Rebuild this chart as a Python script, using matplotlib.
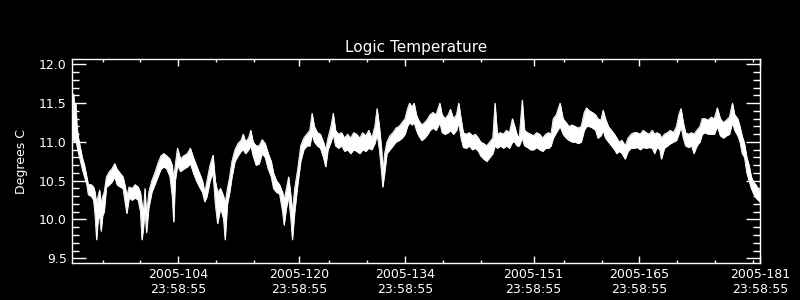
import matplotlib
matplotlib.use("Agg")
import matplotlib.pyplot as plt
from matplotlib.ticker import FixedLocator, MultipleLocator

# day of year 2005, upper / lower edge of the noisy trace (deg C)
day = [
    90.0, 90.15, 90.3, 90.45, 90.6, 90.8, 91.0, 91.3, 91.6, 91.9,
    92.1, 92.5, 92.8, 93.0, 93.2, 93.4, 93.6, 93.8, 94.0, 94.2,
    94.5, 94.9, 95.2, 95.6, 95.9, 96.3, 96.7, 97.0, 97.2, 97.5,
    97.9, 98.3, 98.7, 99.0, 99.2, 99.4, 99.6, 99.8, 100.1, 100.5,
    100.9, 101.3, 101.7, 102.1, 102.5, 102.9, 103.2, 103.4, 103.6, 103.9,
    104.3, 104.7, 105.2, 105.6, 106.0, 106.4, 106.8, 107.2, 107.5, 107.8,
    108.2, 108.6, 108.9, 109.2, 109.6, 110.0, 110.2, 110.5, 110.8, 111.1,
    111.5, 111.9, 112.3, 112.6, 112.9, 113.3, 113.6, 113.9, 114.3, 114.7,
    115.1, 115.5, 115.9, 116.3, 116.6, 117.0, 117.4, 117.8, 118.0, 118.3,
    118.6, 118.9, 119.1, 119.4, 119.8, 120.2, 120.6, 121.0, 121.4, 121.7,
    122.0, 122.4, 122.8, 123.2, 123.5, 123.8, 124.2, 124.5, 124.8, 125.2,
    125.6, 126.0, 126.4, 126.8, 127.2, 127.6, 128.0, 128.4, 128.8, 129.2,
    129.6, 130.0, 130.3, 130.6, 130.9, 131.05, 131.3, 131.6, 132.0, 132.4,
    132.8, 133.2, 133.6, 134.0, 134.3, 134.6, 134.9, 135.2, 135.5, 135.8,
    136.2, 136.6, 137.0, 137.3, 137.7, 138.1, 138.6, 138.9, 139.3, 139.7,
    140.0, 140.4, 140.8, 141.1, 141.4, 141.7, 142.1, 142.5, 142.9, 143.3,
    143.7, 144.0, 144.4, 144.8, 145.2, 145.6, 145.9, 146.2, 146.6, 147.0,
    147.4, 147.8, 148.2, 148.5, 148.8, 149.1, 149.5, 149.8, 150.2, 150.6,
    151.0, 151.4, 151.8, 152.2, 152.6, 153.0, 153.3, 153.6, 154.0, 154.5,
    154.9, 155.3, 155.7, 156.1, 156.5, 156.9, 157.3, 157.7, 158.0, 158.4,
    158.8, 159.2, 159.5, 159.9, 160.2, 160.5, 160.9, 161.3, 161.7, 162.0,
    162.3, 162.7, 163.1, 163.5, 163.9, 164.3, 164.7, 165.1, 165.5, 165.9,
    166.3, 166.7, 167.0, 167.3, 167.7, 167.9, 168.3, 168.7, 169.1, 169.5,
    169.9, 170.2, 170.5, 170.8, 171.1, 171.5, 171.9, 172.2, 172.6, 173.0,
    173.3, 173.7, 174.1, 174.5, 174.9, 175.3, 175.7, 176.1, 176.5, 176.9,
    177.3, 177.6, 178.0, 178.3, 178.6, 178.9, 179.2, 179.5, 179.8, 180.1,
    180.4, 180.7, 181.0,
]
temp_hi = [
    11.30, 11.62, 11.45, 11.50, 11.20, 11.05, 10.95, 10.80, 10.70, 10.55,
    10.45, 10.45, 10.42, 10.35, 10.20, 10.30, 10.38, 10.20, 10.30, 10.35,
    10.55, 10.62, 10.65, 10.72, 10.65, 10.60, 10.55, 10.42, 10.30, 10.42,
    10.40, 10.45, 10.42, 10.35, 10.20, 10.10, 10.40, 10.05, 10.35, 10.50,
    10.60, 10.72, 10.82, 10.85, 10.82, 10.78, 10.70, 10.50, 10.70, 10.92,
    10.78, 10.82, 10.85, 10.92, 10.80, 10.70, 10.60, 10.50, 10.35, 10.50,
    10.70, 10.83, 10.50, 10.35, 10.40, 10.30, 10.20, 10.40, 10.55, 10.75,
    10.90, 10.98, 11.02, 11.10, 11.00, 11.05, 11.15, 11.00, 10.95, 10.95,
    11.03, 10.98, 10.85, 10.75, 10.60, 10.50, 10.45, 10.35, 10.25, 10.40,
    10.55, 10.30, 10.10, 10.40, 10.65, 10.95, 11.05, 11.10, 11.15, 11.37,
    11.20, 11.12, 11.10, 11.00, 10.90, 11.05, 11.20, 11.37, 11.15, 11.10,
    11.12, 11.05, 11.10, 11.05, 11.12, 11.10, 11.05, 11.12, 11.08, 11.15,
    11.05, 11.20, 11.43, 11.20, 10.90, 10.60, 10.85, 11.00, 11.08, 11.12,
    11.18, 11.20, 11.25, 11.30, 11.42, 11.50, 11.45, 11.50, 11.35, 11.28,
    11.22, 11.25, 11.30, 11.35, 11.38, 11.35, 11.50, 11.35, 11.30, 11.35,
    11.42, 11.30, 11.35, 11.50, 11.30, 11.12, 11.10, 11.12, 11.08, 11.10,
    11.05, 11.00, 10.98, 10.95, 11.00, 11.05, 11.50, 11.10, 11.12, 11.10,
    11.15, 11.12, 11.30, 11.20, 11.10, 11.05, 11.54, 11.15, 11.12, 11.10,
    11.08, 11.12, 11.10, 11.05, 11.10, 11.12, 11.10, 11.30, 11.35, 11.50,
    11.30, 11.25, 11.20, 11.22, 11.20, 11.18, 11.20, 11.38, 11.44, 11.40,
    11.38, 11.35, 11.30, 11.28, 11.41, 11.30, 11.20, 11.15, 11.10, 11.05,
    11.00, 11.02, 10.95, 11.05, 11.10, 11.12, 11.12, 11.10, 11.15, 11.12,
    11.10, 11.15, 11.10, 11.12, 11.10, 11.05, 11.10, 11.12, 11.15, 11.12,
    11.20, 11.35, 11.43, 11.25, 11.12, 11.10, 11.12, 11.10, 11.15, 11.20,
    11.30, 11.30, 11.28, 11.32, 11.30, 11.44, 11.30, 11.25, 11.28, 11.32,
    11.50, 11.35, 11.30, 11.20, 11.07, 10.98, 10.80, 10.70, 10.55, 10.48,
    10.45, 10.40, 10.35,
]
temp_lo = [
    11.00, 11.05, 11.00, 11.05, 10.95, 10.85, 10.78, 10.65, 10.55, 10.45,
    10.32, 10.30, 10.25, 10.05, 9.74, 10.00, 10.05, 9.85, 10.05, 10.10,
    10.42, 10.45, 10.48, 10.55, 10.45, 10.42, 10.40, 10.20, 10.08, 10.28,
    10.25, 10.28, 10.25, 10.10, 9.74, 9.90, 10.15, 9.83, 10.15, 10.35,
    10.45, 10.55, 10.65, 10.68, 10.65, 10.55, 10.30, 9.97, 10.50, 10.70,
    10.62, 10.65, 10.68, 10.72, 10.60, 10.50, 10.42, 10.35, 10.23, 10.30,
    10.50, 10.60, 10.20, 9.95, 10.15, 10.00, 9.74, 10.20, 10.35, 10.55,
    10.75, 10.82, 10.88, 10.90, 10.85, 10.90, 10.95, 10.82, 10.70, 10.72,
    10.85, 10.80, 10.65, 10.55, 10.40, 10.35, 10.33, 10.10, 9.93, 10.15,
    10.30, 10.00, 9.74, 10.10, 10.45, 10.75, 10.90, 10.95, 10.95, 11.10,
    11.00, 10.95, 10.92, 10.80, 10.68, 10.90, 11.00, 11.10, 10.95, 10.92,
    10.95, 10.88, 10.90, 10.85, 10.90, 10.88, 10.85, 10.90, 10.88, 10.92,
    10.90, 10.98, 11.10, 10.90, 10.60, 10.42, 10.60, 10.85, 10.90, 10.95,
    11.00, 11.02, 11.05, 11.10, 11.20, 11.25, 11.22, 11.25, 11.15, 11.08,
    11.02, 11.05, 11.10, 11.15, 11.18, 11.15, 11.25, 11.12, 11.10, 11.12,
    11.15, 11.10, 11.15, 11.25, 11.05, 10.93, 10.92, 10.95, 10.90, 10.92,
    10.88, 10.82, 10.78, 10.75, 10.80, 10.85, 10.95, 10.92, 10.95, 10.92,
    10.95, 10.92, 11.00, 11.00, 10.95, 10.95, 11.05, 10.95, 10.93, 10.90,
    10.90, 10.93, 10.90, 10.88, 10.92, 10.92, 10.95, 11.05, 11.12, 11.20,
    11.10, 11.05, 11.02, 11.00, 11.00, 10.98, 11.00, 11.15, 11.20, 11.20,
    11.18, 11.15, 11.05, 11.08, 11.15, 11.05, 11.00, 10.95, 10.90, 10.85,
    10.88, 10.85, 10.78, 10.88, 10.92, 10.92, 10.93, 10.90, 10.93, 10.92,
    10.93, 10.92, 10.85, 10.93, 10.90, 10.78, 10.92, 10.95, 10.98, 11.00,
    11.02, 11.10, 11.20, 11.05, 10.95, 10.93, 10.95, 10.85, 10.95, 11.00,
    11.10, 11.12, 11.10, 11.10, 11.10, 11.20, 11.08, 11.05, 11.08, 11.10,
    11.25, 11.15, 11.08, 11.00, 10.85, 10.80, 10.60, 10.50, 10.40, 10.33,
    10.28, 10.25, 10.22,
]

# labelled ticks (2005-DDD 23:58:55) and the small ones in between
major_days = [104, 120, 134, 151, 165, 181]
minor_days = [94, 99, 109, 114, 124, 129, 139, 144, 155, 160, 170, 175, 180]
tick_time = "23:58:55"


def plot_temperature():
    fig = plt.figure(figsize=(8, 3), dpi=100, facecolor="black")
    ax = fig.add_axes([0.0904, 0.1243, 0.86, 0.678], facecolor="black")

    # the trace is a fast jitter between levels, so draw it as a filled band
    ax.fill_between(day, temp_lo, temp_hi, facecolor="white",
                    edgecolor="white", linewidth=0.5)
    ax.plot(day, temp_hi, color="white", linewidth=0.6)
    ax.plot(day, temp_lo, color="white", linewidth=0.6)

    ax.set_xlim(90, 181)
    ax.set_ylim(9.443, 12.064)

    ax.xaxis.set_major_locator(FixedLocator(major_days))
    ax.xaxis.set_minor_locator(FixedLocator(minor_days))
    ax.set_xticklabels([f"2005-{d:03d}\n{tick_time}" for d in major_days])
    ax.yaxis.set_major_locator(MultipleLocator(0.5))
    ax.yaxis.set_minor_locator(MultipleLocator(0.1))
    ax.yaxis.set_major_formatter("{x:.1f}")

    for spine in ax.spines.values():
        spine.set_color("white")
        spine.set_linewidth(1)

    ax.tick_params(axis="x", which="major", direction="in", length=5,
                   width=1, top=True, bottom=True, pad=4)
    ax.tick_params(axis="x", which="minor", direction="in", length=2.5,
                   width=1, top=True, bottom=True)
    ax.tick_params(axis="y", which="major", direction="in", length=10,
                   width=1, left=True, right=True, pad=4)
    ax.tick_params(axis="y", which="minor", direction="in", length=5,
                   width=1, left=True, right=True)
    ax.tick_params(which="both", colors="white", labelsize=9)

    ax.set_title("Logic Temperature", color="white", fontsize=11, pad=5)
    ax.set_ylabel("Degrees C", color="white", fontsize=9)
    ax.yaxis.set_label_coords(-0.0644, 0.5)

    fig.savefig("out.png", dpi=100, facecolor="black")
    plt.close(fig)


if __name__ == "__main__":
    plot_temperature()
